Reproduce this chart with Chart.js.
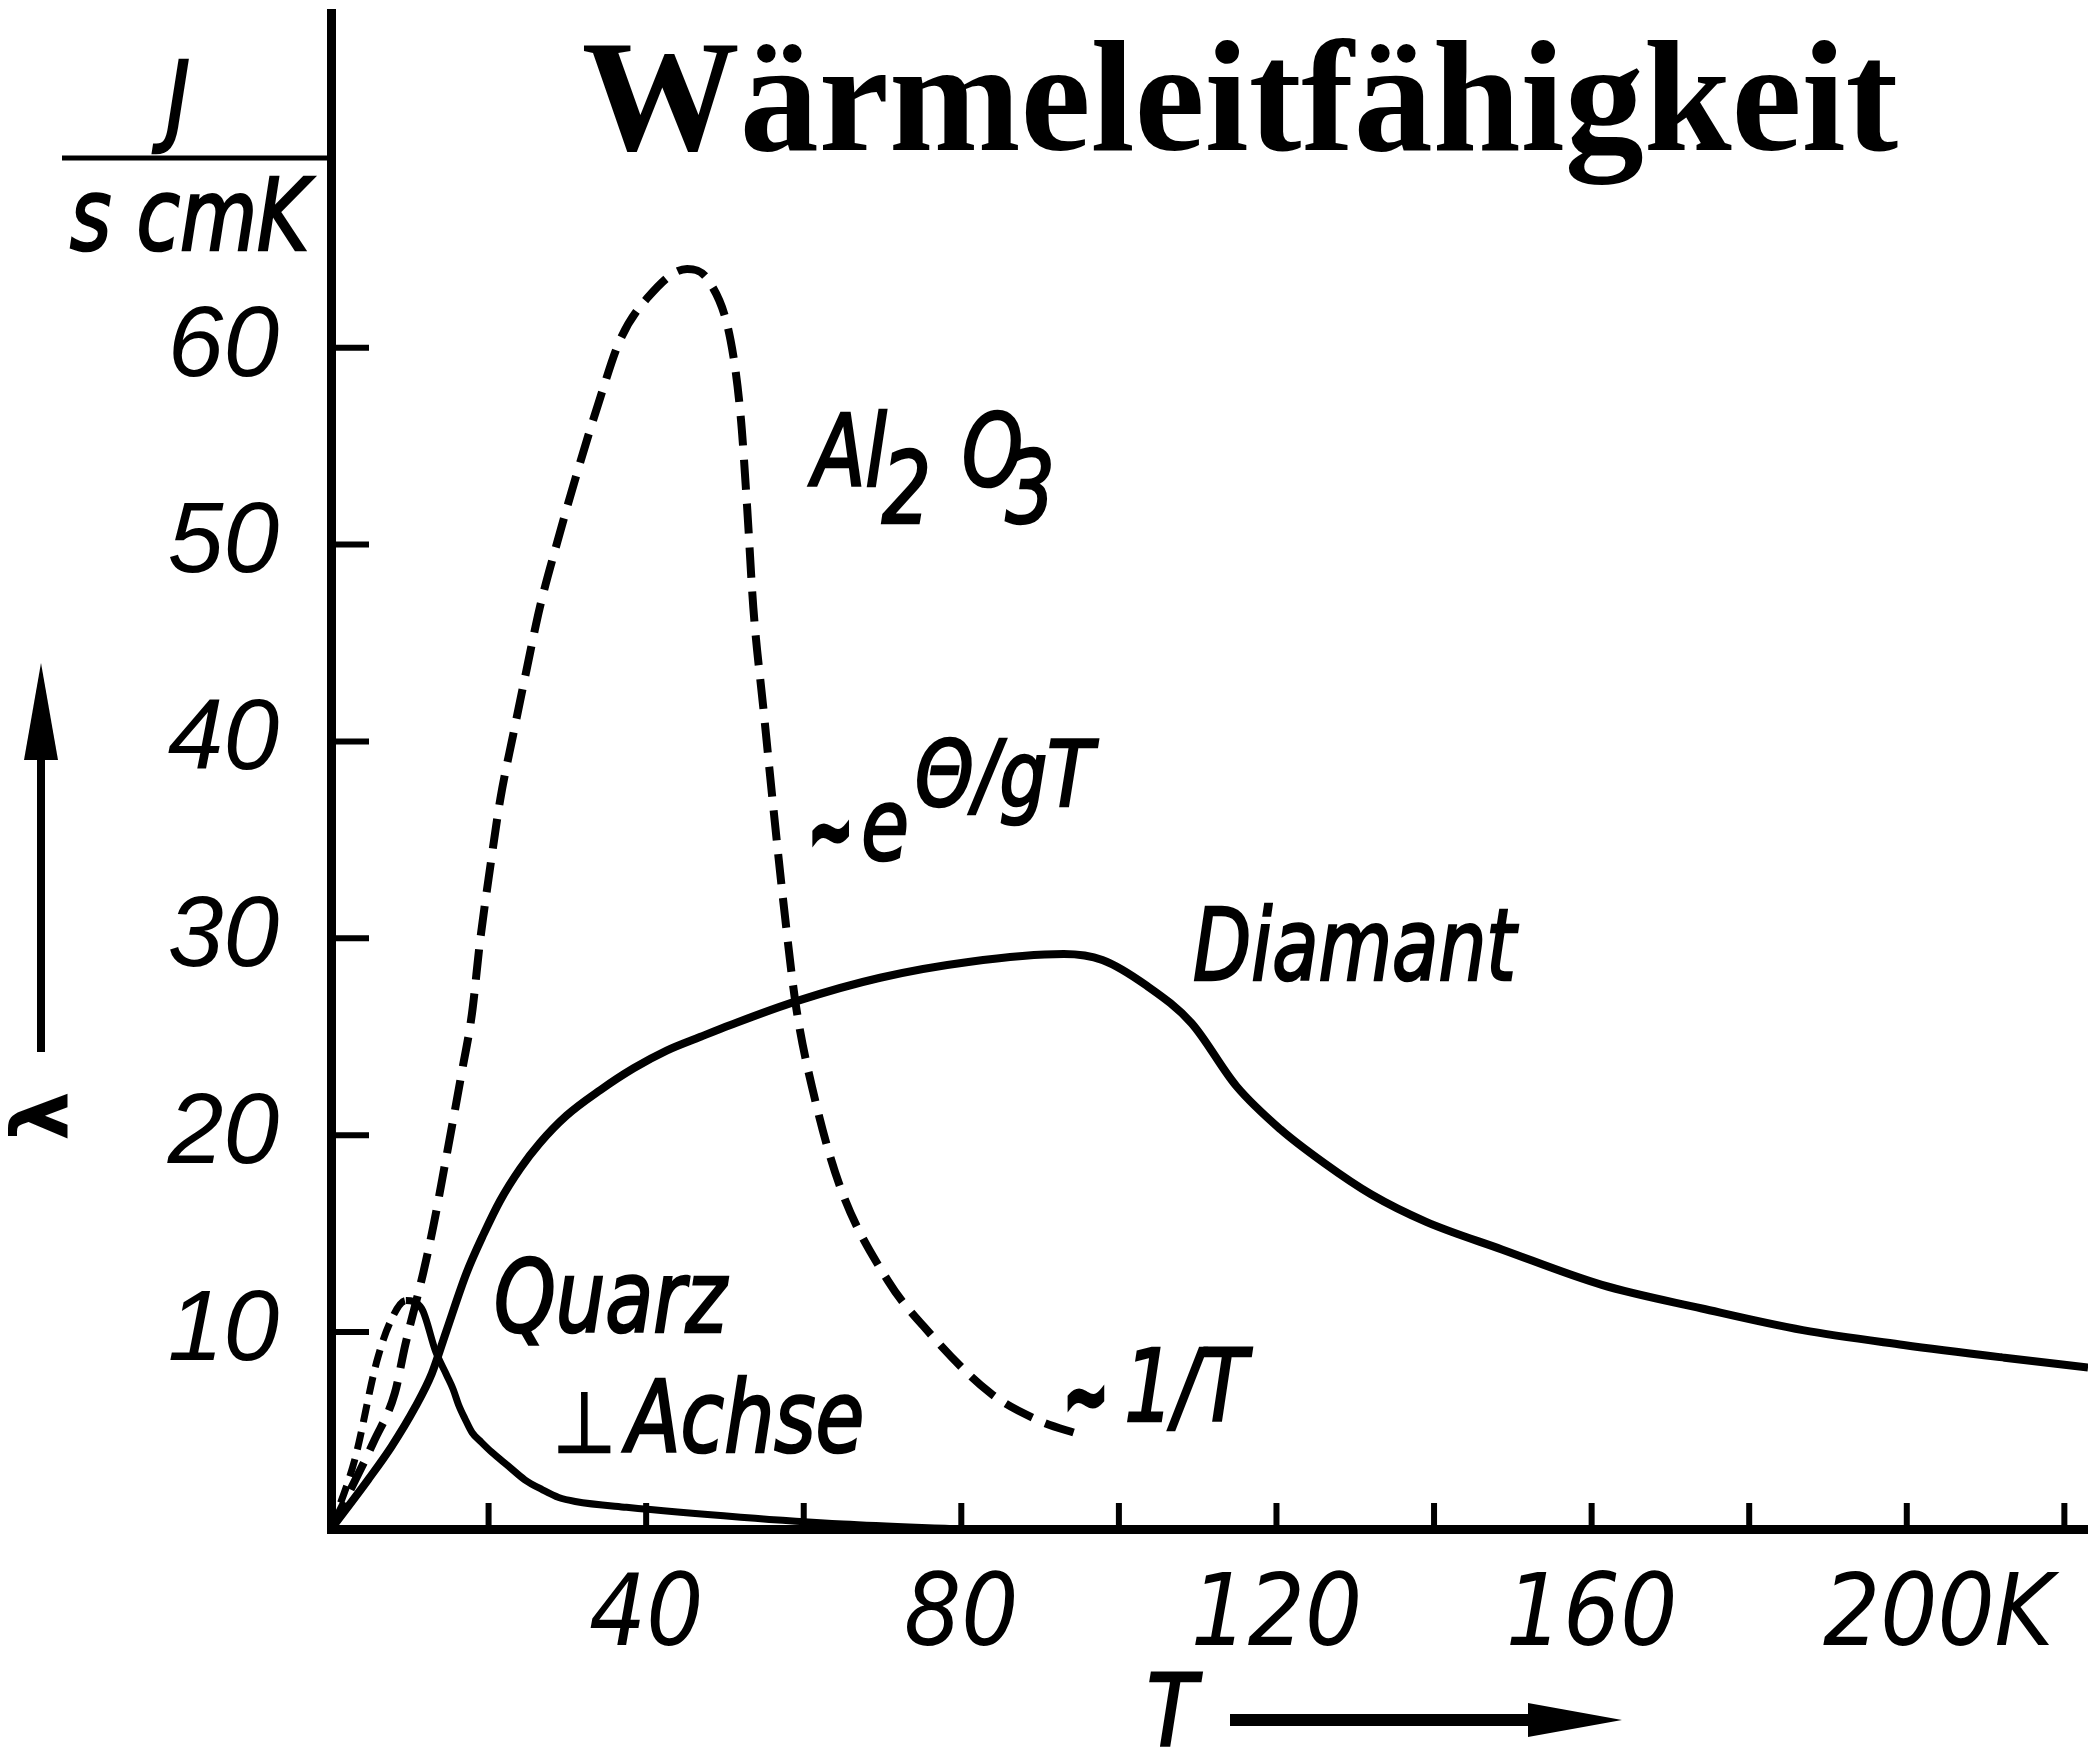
<!DOCTYPE html>
<html lang="de">
<head>
<meta charset="utf-8">
<title>Wärmeleitfähigkeit</title>
<script src="https://cdn.jsdelivr.net/npm/chart.js@4.4.1/dist/chart.umd.min.js"></script>
<style>
  html, body { margin: 0; padding: 0; background: #fff; }
  #wrap { width: 2088px; height: 1748px; }
</style>
</head>
<body>
<div id="wrap"><canvas id="myChart" width="2088" height="1748"></canvas></div>
<script>
// Werte (T in K, Lambda in J/(s cm K))
const diamantT = [0, 4.7, 7.7, 10.7, 12.8, 14.6, 17.2, 19.4, 21.5, 24, 26.5, 29.9, 34.2, 38.4, 42.6, 46.9, 50.7, 59, 69.7, 80.9, 93, 97.9, 103.5, 109.2, 114.9, 120.5, 126, 132, 139, 148.6, 161.3, 174, 186.8, 199.6, 212.4, 223];
const diamantL = [0, 2.5, 4.2, 6.2, 7.9, 10.0, 13.0, 15.0, 16.7, 18.3, 19.6, 21.0, 22.3, 23.4, 24.3, 25.0, 25.6, 26.8, 28, 28.8, 29.2, 28.9, 27.6, 25.7, 22.5, 20.3, 18.6, 17.0, 15.6, 14.2, 12.4, 11.2, 10.1, 9.35, 8.7, 8.2];

const al2o3T = [0, 5.5, 8.1, 9.4, 11.7, 13.0, 14.5, 16.6, 17.9, 18.9, 20.2, 21.5, 23.1, 24.8, 26.5, 28.7, 31.2, 34.2, 36.7, 40.1, 45.2, 48.1, 50.7, 52, 52.8, 53.6, 54.9, 56.1, 57.4, 59, 61.2, 64.6, 70.7, 75.2, 83.7, 89.9, 95];
const al2o3L = [0, 4.5, 6.9, 9.3, 13.0, 15.4, 18.6, 23.2, 26.2, 29.8, 33.6, 37.1, 40.3, 43.6, 46.8, 50.1, 53.6, 57.5, 60.4, 62.5, 64, 63.3, 60.4, 56.5, 52, 46.8, 41.6, 36.8, 31.9, 26.6, 22.2, 17.4, 12.6, 10.3, 6.9, 5.5, 4.8];

const quarzT = [0, 3, 5.8, 7.5, 9.5, 11.5, 13.3, 14.7, 15.5, 16.2, 17.0, 17.9, 19.1, 20.4, 22.5, 24.6, 26.8, 28.9, 31, 37.5, 52, 65, 80];
const quarzL = [0, 3.5, 8.5, 10.5, 11.6, 11.2, 9, 7.8, 7.1, 6.3, 5.6, 4.9, 4.4, 3.9, 3.2, 2.5, 2.0, 1.6, 1.4, 1.1, 0.6, 0.25, 0];
const quarzPeak = 4;

// Achsen
const xTickMarks = [20, 40, 60, 80, 100, 120, 140, 160, 180, 200, 220];
const xLabelValues = [40, 80, 120, 160, 200];
const xLabelTexts = ["40", "80", "120", "160", "\u2002\u2009200K"];
const yTickMarks = [10, 20, 30, 40, 50, 60];
const yLabelValues = [10, 20, 30, 40, 50, 60];

const NARROW = '"Liberation Sans Narrow", "DejaVu Sans Condensed", "Liberation Sans", sans-serif';

function puntos(xs, ys) {
    return xs.map((x, i) => ({ x: x, y: ys[i] }));
}

// Text etwas schmaler und kräftiger, wie die Handschrift der Vorlage
function rotulo(ctx, str, x, y, sx) {
    ctx.save();
    ctx.translate(x, y);
    ctx.scale(sx, 1);
    ctx.fillText(str, 0, 0);
    ctx.strokeText(str, 0, 0);
    ctx.restore();
}

// Striche nach innen, wie in der Vorlage
const innenStriche = {
    id: "innenStriche",
    afterDraw(chart) {
        const { ctx, scales: { x, y } } = chart;
        ctx.save();
        ctx.strokeStyle = "#000";
        ctx.lineWidth = 6;
        ctx.beginPath();
        xTickMarks.forEach(v => {
            const px = x.getPixelForValue(v);
            ctx.moveTo(px, x.top);
            ctx.lineTo(px, x.top - 26);
        });
        yTickMarks.forEach(v => {
            const py = y.getPixelForValue(v);
            ctx.moveTo(y.right, py);
            ctx.lineTo(y.right + 38, py);
        });
        ctx.stroke();
        ctx.restore();
    }
};

// Beschriftungen
const textos = {
    id: "textos",
    afterDraw(chart) {
        const { ctx, scales: { x, y } } = chart;
        const X = v => x.getPixelForValue(v);
        const Y = v => y.getPixelForValue(v);
        ctx.save();
        ctx.fillStyle = "#000";
        ctx.strokeStyle = "#000";
        ctx.textBaseline = "alphabetic";

        // Titel
        ctx.font = 'bold 158px "Liberation Serif", "Times New Roman", serif';
        ctx.textAlign = "center";
        ctx.fillText("Wärmeleitfähigkeit", 1240, 150);

        // Einheit J / (s cm K)
        ctx.lineWidth = 2.5;
        ctx.font = "italic 100px " + NARROW;
        ctx.textAlign = "left";
        rotulo(ctx, "J", 166, 133, 0.9);
        rotulo(ctx, "s cmK", 70, 250, 0.88);
        ctx.lineWidth = 5;
        ctx.beginPath();
        ctx.moveTo(62, 158);
        ctx.lineTo(y.right, 158);
        ctx.stroke();

        // lambda mit Pfeil
        ctx.lineWidth = 8;
        ctx.beginPath();
        ctx.moveTo(41, 1052);
        ctx.lineTo(41, 750);
        ctx.stroke();
        ctx.beginPath();
        ctx.moveTo(41, 663);
        ctx.lineTo(58, 760);
        ctx.lineTo(24, 760);
        ctx.closePath();
        ctx.fill();
        ctx.save();
        ctx.translate(48, 1116);
        ctx.rotate(-Math.PI / 2);
        ctx.font = 'bold 78px "DejaVu Sans", sans-serif';
        ctx.textAlign = "center";
        ctx.textBaseline = "middle";
        ctx.fillText("λ", 0, 0);
        ctx.restore();

        // T mit Pfeil
        ctx.lineWidth = 2.5;
        ctx.font = "italic 100px " + NARROW;
        ctx.textAlign = "left";
        rotulo(ctx, "T", 1147, 1746, 0.9);
        ctx.lineWidth = 12;
        ctx.beginPath();
        ctx.moveTo(1230, 1720);
        ctx.lineTo(1540, 1720);
        ctx.stroke();
        ctx.beginPath();
        ctx.moveTo(1622, 1720);
        ctx.lineTo(1528, 1703);
        ctx.lineTo(1528, 1737);
        ctx.closePath();
        ctx.fill();

        // Kurvenbeschriftungen
        ctx.textAlign = "left";
        ctx.lineWidth = 2.5;
        ctx.font = "italic 100px " + NARROW;
        rotulo(ctx, "Diamant", X(109.4), Y(27.9), 0.84);
        rotulo(ctx, "Quarz", X(20.7), Y(10.0), 0.87);
        rotulo(ctx, "Achse", X(37.5), Y(3.9), 0.88);
        rotulo(ctx, "Al", X(61.1), Y(53), 0.86);
        rotulo(ctx, "2", X(69.9), Y(51.1), 0.86);
        rotulo(ctx, "O", X(80.1), Y(53), 0.86);
        rotulo(ctx, "3", X(85.6), Y(51.1), 0.86);
        rotulo(ctx, "e", X(67.3), Y(34), 0.86);
        rotulo(ctx, "1/T", X(100.7), Y(5.5), 0.86);
        ctx.font = "italic 90px " + NARROW;
        rotulo(ctx, "Θ/gT", X(74.1), Y(36.7), 0.93);
        ctx.font = '84px "DejaVu Sans", sans-serif';
        rotulo(ctx, "⊥", X(28.2), Y(3.9), 0.85);
        ctx.lineWidth = 5;
        ctx.font = "bold 84px " + NARROW;
        rotulo(ctx, "~", X(60.6), Y(34.0), 0.7);
        rotulo(ctx, "~", X(93.0), Y(5.3), 0.7);
        ctx.restore();
    }
};

const config = {
    type: "line",
    data: {
        datasets: [
            {
                label: "Diamant",
                data: puntos(diamantT, diamantL),
                borderColor: "#000",
                borderWidth: 8,
                pointRadius: 0,
                cubicInterpolationMode: "monotone"
            },
            {
                label: "Al2O3",
                data: puntos(al2o3T, al2o3L),
                borderColor: "#000",
                borderWidth: 8,
                borderDash: [30, 14],
                pointRadius: 0,
                cubicInterpolationMode: "monotone"
            },
            {
                label: "Quarz ⊥ Achse",
                data: puntos(quarzT, quarzL),
                borderColor: "#000",
                borderWidth: 7,
                pointRadius: 0,
                cubicInterpolationMode: "monotone",
                segment: {
                    borderDash: c => c.p1DataIndex <= quarzPeak ? [18, 10] : undefined
                }
            }
        ]
    },
    options: {
        responsive: false,
        animation: false,
        devicePixelRatio: 1,
        layout: { padding: { top: 13, left: 0, right: 0, bottom: 0 } },
        plugins: {
            legend: { display: false },
            tooltip: { enabled: false }
        },
        scales: {
            x: {
                type: "linear",
                min: 0,
                max: 223,
                grid: { display: false },
                border: { display: true, color: "#000", width: 9 },
                afterFit: s => {
                    s.height = 1748 - 1529;
                    s.paddingLeft = 0;
                    s.paddingRight = 0;
                },
                ticks: {
                    stepSize: 20,
                    includeBounds: false,
                    autoSkip: false,
                    maxRotation: 0,
                    padding: 22,
                    color: "#000",
                    font: { family: NARROW, size: 100, style: "italic" },
                    callback: v => {
                        const i = xLabelValues.indexOf(v);
                        return i < 0 ? "" : xLabelTexts[i];
                    }
                }
            },
            y: {
                type: "linear",
                min: 0,
                max: 77,
                grid: { display: false },
                border: { display: true, color: "#000", width: 9 },
                afterFit: s => {
                    s.width = 331;
                    s.paddingTop = 0;
                    s.paddingBottom = 0;
                },
                ticks: {
                    stepSize: 10,
                    includeBounds: false,
                    autoSkip: false,
                    padding: 44,
                    color: "#000",
                    font: { family: '"Liberation Sans", sans-serif', size: 100, style: "italic" },
                    callback: v => yLabelValues.includes(v) ? String(v) : ""
                }
            }
        }
    },
    plugins: [innenStriche, textos]
};

const myChart = new Chart(document.getElementById("myChart"), config);
</script>
</body>
</html>
